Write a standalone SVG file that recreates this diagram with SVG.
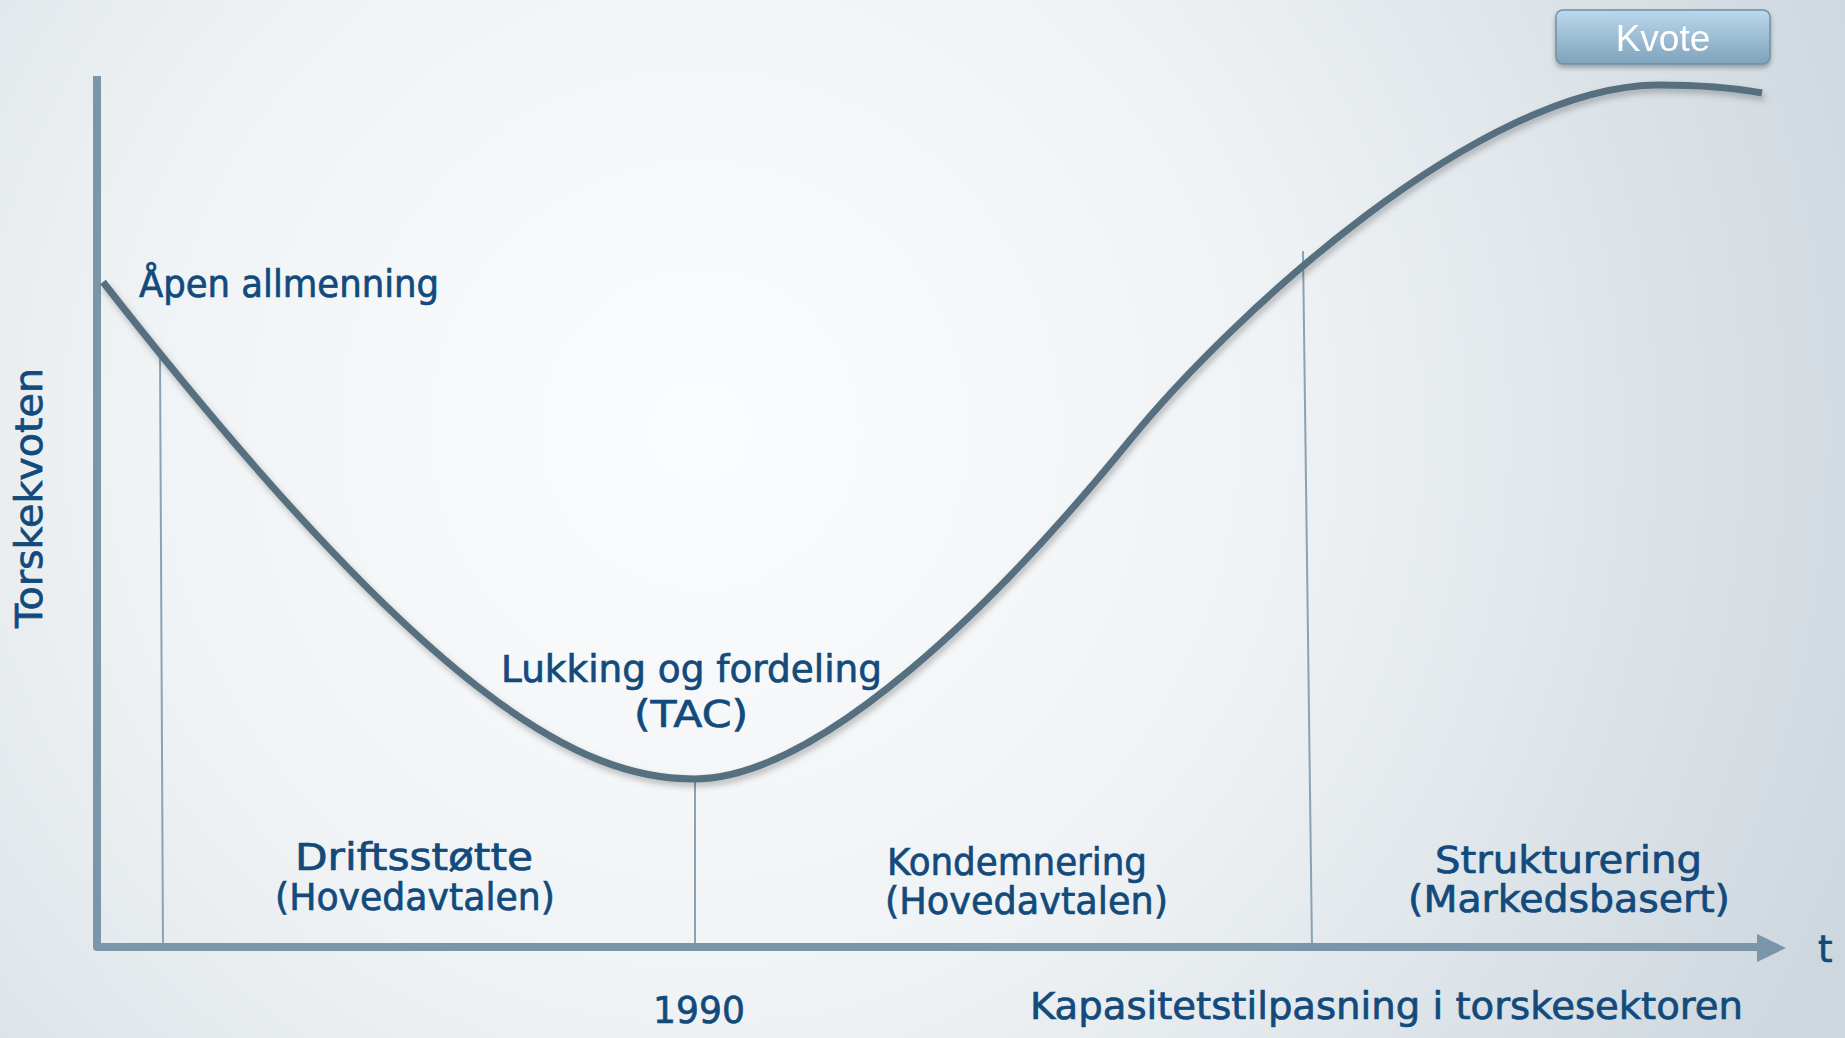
<svg xmlns="http://www.w3.org/2000/svg" width="1845" height="1038" viewBox="0 0 1845 1038">
<defs>
<radialGradient id="bg" cx="700" cy="430" r="1250" gradientUnits="userSpaceOnUse">
<stop offset="0" stop-color="#fbfcfd"/>
<stop offset="0.45" stop-color="#f0f3f5"/>
<stop offset="1" stop-color="#cdd7de"/>
</radialGradient>
<linearGradient id="btn" x1="0" y1="0" x2="0" y2="1">
<stop offset="0" stop-color="#bcd8ec"/>
<stop offset="1" stop-color="#7ea3bb"/>
</linearGradient>
<filter id="sh" x="-5%" y="-5%" width="110%" height="115%">
<feDropShadow dx="2" dy="4" stdDeviation="3" flood-color="#000" flood-opacity="0.25"/>
</filter>
<filter id="bsh" x="-10%" y="-20%" width="120%" height="150%">
<feDropShadow dx="0" dy="3" stdDeviation="2.5" flood-color="#000" flood-opacity="0.3"/>
</filter>
</defs>
<style>
.lbl{font-family:"DejaVu Sans","Noto Sans",sans-serif;font-size:37px;fill:#124a7c;stroke:#124a7c;stroke-width:0.7px;}
.mid{text-anchor:middle;}
.axis{fill:none;stroke:#7a96a8;stroke-width:8;stroke-linejoin:round;}
.thin{fill:none;stroke:#8ba2b2;stroke-width:2;}
.curve{fill:none;stroke:#566f80;stroke-width:7;}
</style>
<rect x="0" y="0" width="1845" height="1038" fill="url(#bg)"/>

<g id="connectors">
<line class="thin" x1="160" y1="353" x2="163" y2="947"/>
<line class="thin" x1="695" y1="779" x2="695" y2="947"/>
<line class="thin" x1="1303" y1="251" x2="1312" y2="947"/>
<path class="axis" d="M97,76 L97,947 L1762,947"/>
<polygon points="1757,934 1786,948 1757,962" fill="#7a96a8"/>
<path class="curve" filter="url(#sh)" d="M103,282 C430,700 580,779 694,779 C820,779 1000,600 1130,440 C1230,317 1480,85 1659,85 C1700,85 1740,89 1762,93"/>
</g>

<g id="kvote" filter="url(#bsh)">
<rect x="1556" y="10" width="214" height="54" rx="7" fill="url(#btn)" stroke="#6d90a6" stroke-width="1.5"/>
<text x="1663" y="51" text-anchor="middle" font-family="Liberation Sans, Arial, sans-serif" font-size="37" fill="#ffffff">Kvote</text>
</g>

<g id="apen"><text class="lbl" x="139" y="297" textLength="300" lengthAdjust="spacingAndGlyphs">Åpen allmenning</text></g>

<g id="yaxis-label"><text class="lbl mid" transform="translate(42,498) rotate(-90)" textLength="260" lengthAdjust="spacingAndGlyphs">Torskekvoten</text></g>

<g id="lukking">
<text class="lbl" x="501" y="682" textLength="381" lengthAdjust="spacingAndGlyphs">Lukking og fordeling</text>
<text class="lbl" x="634" y="727" textLength="114" lengthAdjust="spacingAndGlyphs">(TAC)</text>
</g>

<g id="driftsstotte">
<text class="lbl" x="295" y="870" textLength="238" lengthAdjust="spacingAndGlyphs">Driftsstøtte</text>
<text class="lbl" x="275" y="910" textLength="280" lengthAdjust="spacingAndGlyphs">(Hovedavtalen)</text>
</g>

<g id="kondemnering">
<text class="lbl" x="887" y="875" textLength="260" lengthAdjust="spacingAndGlyphs">Kondemnering</text>
<text class="lbl" x="885" y="914" textLength="283" lengthAdjust="spacingAndGlyphs">(Hovedavtalen)</text>
</g>

<g id="strukturering">
<text class="lbl" x="1435" y="873" textLength="267" lengthAdjust="spacingAndGlyphs">Strukturering</text>
<text class="lbl" x="1408" y="912" textLength="322" lengthAdjust="spacingAndGlyphs">(Markedsbasert)</text>
</g>

<g id="t-label"><text class="lbl" x="1818" y="962">t</text></g>

<g id="year"><text class="lbl" x="653" y="1023" textLength="92" lengthAdjust="spacingAndGlyphs">1990</text></g>

<g id="xaxis-label"><text class="lbl" x="1030" y="1019" textLength="713" lengthAdjust="spacingAndGlyphs">Kapasitetstilpasning i torskesektoren</text></g>
</svg>
